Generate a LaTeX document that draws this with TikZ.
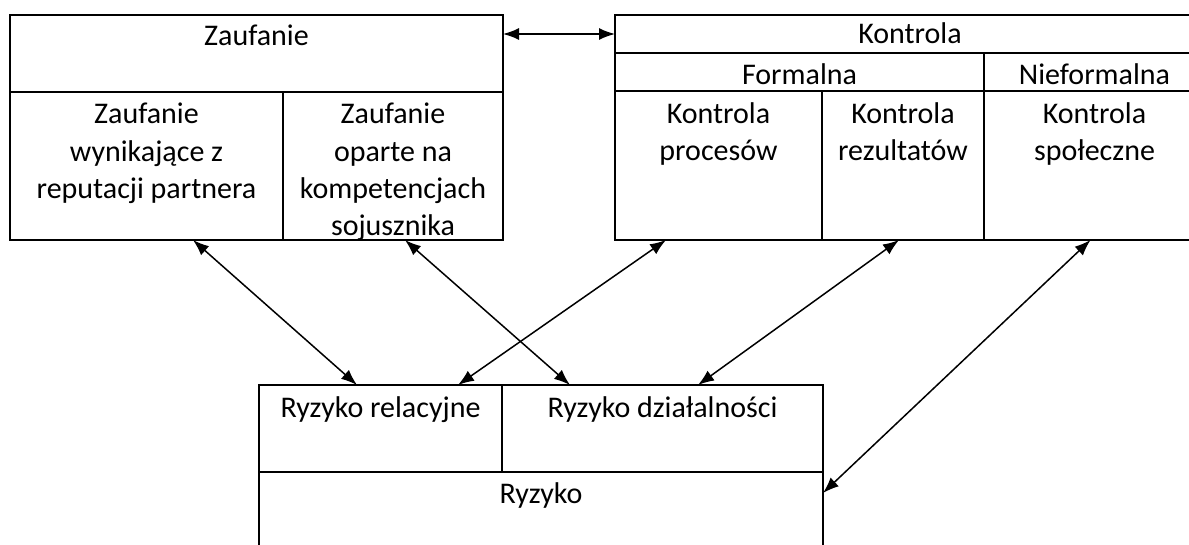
\documentclass[tikz,border=0pt]{standalone}
\usepackage{fontspec}
\setmainfont{Carlito}
\usetikzlibrary{positioning,arrows.meta}

\begin{document}
\begin{tikzpicture}[x=1pt, y=-1pt, line width=1.5pt,
    font=\fontsize{30}{37.3}\selectfont,
    cell/.style={draw, inner sep=0pt, outer sep=0pt},
    lbl/.style={align=center, anchor=north, inner sep=0pt, execute at begin node=\strut},
    link/.style={{Latex[length=16pt,width=12pt]}-{Latex[length=16pt,width=12pt]}}]
  \useasboundingbox (0,0) rectangle (1189,544);
  \clip (0,0) rectangle (1189,544);
  % Zaufanie
  \node[cell, anchor=north west, minimum width=493pt, minimum height=77pt] (zt) at (10,15) {};
  \node[cell, anchor=north west, minimum width=273pt, minimum height=148pt] (zrep) at (zt.south west) {};
  \node[cell, right=0pt of zrep, minimum width=220pt, minimum height=148pt] (zkom) {};
  % Kontrola
  \node[cell, anchor=north west, minimum width=590pt, minimum height=38pt] (kt) at (615,15) {};
  \node[cell, anchor=north west, minimum width=369pt, minimum height=38pt] (kform) at (kt.south west) {};
  \node[cell, right=0pt of kform, minimum width=221pt, minimum height=38pt] (knf) {};
  \node[cell, anchor=north west, minimum width=207pt, minimum height=149pt] (kproc) at (kform.south west) {};
  \node[cell, right=0pt of kproc, minimum width=162pt, minimum height=149pt] (krez) {};
  \node[cell, right=0pt of krez, minimum width=221pt, minimum height=149pt] (kspol) {};
  % Ryzyko
  \node[cell, anchor=north west, minimum width=243pt, minimum height=87pt] (rrel) at (259,385) {};
  \node[cell, right=0pt of rrel, minimum width=321pt, minimum height=87pt] (rdz) {};
  \node[cell, anchor=north west, minimum width=564pt, minimum height=90pt] (ryz) at (rrel.south west) {};

  % texts
  \node[lbl] (zt-t)    at ([yshift=-4pt]zt.north)    {Zaufanie};
  \node[lbl] (zrep-t)  at ([yshift=-10.5pt]zrep.north)  {Zaufanie\\wynikające z\\reputacji partnera};
  \node[lbl] (zkom-t)  at ([yshift=-10.5pt]zkom.north)  {Zaufanie\\oparte na\\kompetencjach\\sojusznika};
  \node[lbl] (kt-t)    at ([yshift=-2pt]kt.north)    {Kontrola};
  \node[lbl] (kform-t) at ([yshift=-4.5pt]kform.north) {Formalna};
  \node[lbl] (knf-t)   at ([yshift=-4.5pt]knf.north)   {Nieformalna};
  \node[lbl] (kproc-t) at ([yshift=-11pt]kproc.north) {Kontrola\\procesów};
  \node[lbl] (krez-t)  at ([yshift=-11pt]krez.north)  {Kontrola\\rezultatów};
  \node[lbl] (kspol-t) at ([yshift=-11pt]kspol.north) {Kontrola\\społeczne};
  \node[lbl] (rrel-t)  at ([yshift=-5.5pt]rrel.north)  {Ryzyko relacyjne};
  \node[lbl] (rdz-t)   at ([yshift=-5.5pt]rdz.north)   {Ryzyko działalności};
  \node[lbl] (ryz-t)   at ([yshift=-4.5pt]ryz.north)   {Ryzyko};

  % links
  \draw[link] (kt.west -| zt.east) -- (kt.west);
  \draw[link] ([xshift=46.5pt]zrep.south) -- ([xshift=-23.5pt]rrel.north);
  \draw[link] ([xshift=12pt]zkom.south) -- ([xshift=-92.5pt]rdz.north);
  \draw[link] ([xshift=-52.5pt]kproc.south) -- ([xshift=77.5pt]rrel.north);
  \draw[link] ([xshift=-4pt]krez.south) -- ([xshift=35.5pt]rdz.north);
  \draw[link] ([xshift=-4pt]kspol.south) -- ([yshift=-21pt]ryz.north east);
\end{tikzpicture}
\end{document}
